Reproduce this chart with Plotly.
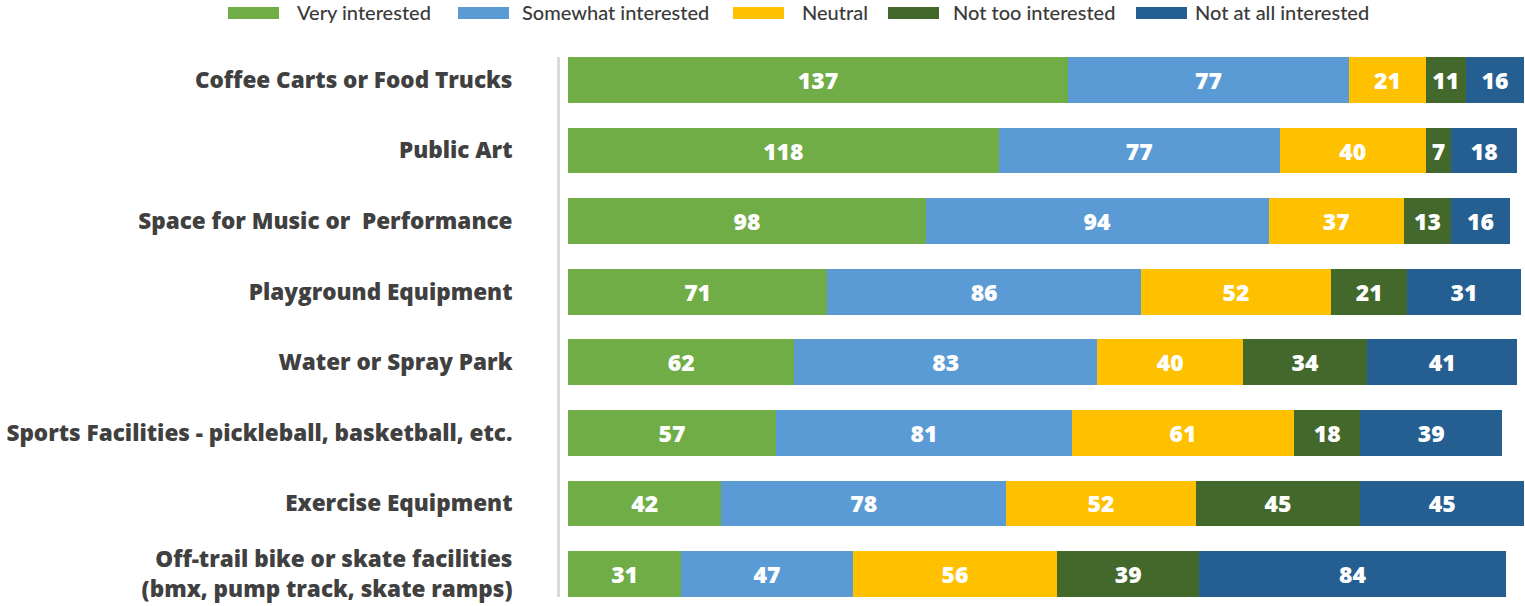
import plotly.graph_objects as go

categories = [
    "Coffee Carts or Food Trucks",
    "Public Art",
    "Space for Music or \u00a0Performance",
    "Playground Equipment",
    "Water or Spray Park",
    "Sports Facilities - pickleball, basketball, etc.",
    "Exercise Equipment",
    "Off-trail bike or skate facilities<br>(bmx, pump track, skate ramps)",
]
series_names = ["Very interested", "Somewhat interested", "Neutral",
                "Not too interested", "Not at all interested"]
very_interested = [137, 118, 98, 71, 62, 57, 42, 31]
somewhat_interested = [77, 77, 94, 86, 83, 81, 78, 47]
neutral = [21, 40, 37, 52, 40, 61, 52, 56]
not_too_interested = [11, 7, 13, 21, 34, 18, 45, 39]
not_at_all_interested = [16, 18, 16, 31, 41, 39, 45, 84]
series_values = [very_interested, somewhat_interested, neutral,
                 not_too_interested, not_at_all_interested]
colors = ["#70AD47", "#5B9BD5", "#FFC000", "#43682B", "#255E91"]

W, H = 1525, 606
ML, MR, MT, MB = 560, 0, 57, 9
PW, PH = W - ML - MR, H - MT - MB

fig = go.Figure()
for name, vals, col in zip(series_names, series_values, colors):
    fig.add_trace(go.Bar(
        y=categories, x=vals, name=name, orientation="h",
        marker=dict(color=col, line=dict(width=0)),
        text=vals, texttemplate="%{x}", textposition="inside",
        insidetextanchor="middle", textangle=0, constraintext="none",
        textfont=dict(family="Open Sans", size=23, color="white", weight=800),
        showlegend=False,
    ))

def px_x(p):
    return (p - ML) / PW

def px_y(p):
    return 1 - (p - MT) / PH

legend_rect_left = [228, 458, 733, 888, 1136]
legend_text_left = [295, 520, 800, 951, 1193]
shapes = [dict(type="rect", xref="paper", yref="paper",
               x0=px_x(rl), x1=px_x(rl + 51), y0=px_y(19), y1=px_y(7),
               fillcolor=col, line=dict(width=0))
          for rl, col in zip(legend_rect_left, colors)]
annotations = [dict(xref="paper", yref="paper", x=px_x(tl), y=px_y(12),
                    xanchor="left", yanchor="middle", text=name, showarrow=False,
                    font=dict(family="Lato", size=20, color="#3A3A3A", weight=500))
               for tl, name in zip(legend_text_left, series_names)]

fig.update_layout(
    barmode="stack", bargap=0.35,
    width=W, height=H,
    margin=dict(l=ML, r=MR, t=MT, b=MB, pad=0),
    paper_bgcolor="white", plot_bgcolor="white",
    shapes=shapes, annotations=annotations,
    xaxis=dict(range=[-2.2, 262.2], showgrid=False, zeroline=False,
               showticklabels=False, showline=False, fixedrange=True),
    yaxis=dict(categoryorder="array", categoryarray=categories,
               range=[7.325, -0.325], autorange=False,
               showgrid=False, zeroline=False,
               showline=True, linecolor="#D9D9D9", linewidth=3,
               ticks="", ticklabelstandoff=40,
               tickfont=dict(family="Open Sans", size=22.5, color="#404040", weight=800)),
)
fig.write_html("out.html")
